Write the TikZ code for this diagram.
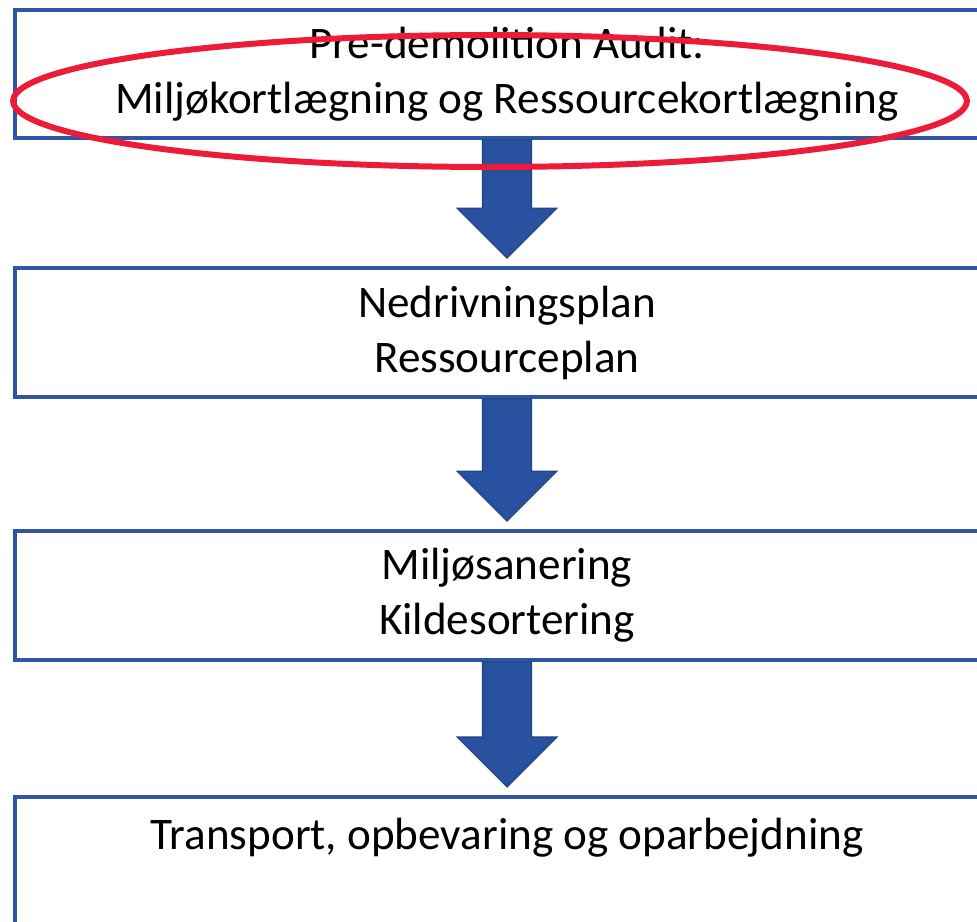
\documentclass[tikz,border=0pt]{standalone}
\usepackage{fontspec}
\setmainfont{Carlito}
\usetikzlibrary{%
calc,%
positioning,%
shapes.geometric}
\definecolor{boxblue}{RGB}{47,85,164}
\definecolor{arrowblue}{RGB}{40,82,160}
\definecolor{ringred}{RGB}{237,27,58}
\newcommand{\flowarrow}[2]{%
  \draw[blockarrow]
    ($(#1.south)+(-24.5,0)$) -- ($(#2.north)+(-24.5,-58)$) -- ++(-25.5,0)
    -- ($(#2.north)+(0,-8)$) -- ($(#2.north)+(50,-58)$) -- ++(-25.5,0)
    -- ($(#1.south)+(24.5,0)$) -- cycle;}
\begin{document}
\begin{tikzpicture}[x=0.02cm,y=-0.02cm,
  stepbox/.style={draw=boxblue,line width=2.2pt,fill=white,minimum width=19.68cm,
    inner sep=0pt,align=center,font=\fontsize{25.7}{31.3}\selectfont},
  steptext/.style={inner sep=0pt,align=center,font=\fontsize{25.7}{31.3}\selectfont},
  blockarrow/.style={fill=arrowblue,draw=arrowblue!80!black,line width=0.6pt,line join=miter}]
\path[use as bounding box,clip] (0,0) rectangle (977,922);
\fill[white] (0,0) rectangle (977,922);
\node[stepbox,minimum height=2.56cm] (audit) at (507,74)
  {Pre-demolition Audit:\\Miljøkortlægning og Ressourcekortlægning};
\node[stepbox,minimum height=2.58cm] (plan) at (507,332.5)
  {Nedrivningsplan\\Ressourceplan};
\node[stepbox,minimum height=2.58cm] (sort) at (507,595.5)
  {Miljøsanering\\Kildesortering};
\node[stepbox,minimum height=3.2cm,anchor=north] (trans) at (507,795) {};
\node[steptext,below=0.46cm of trans.north] (transtext)
  {Transport, opbevaring og oparbejdning};
% block arrows between the steps
\flowarrow{audit}{plan}
\flowarrow{plan}{sort}
\flowarrow{sort}{trans}
% red ring round the first step
\node[ellipse,draw=ringred,line width=3.4pt,minimum width=19.08cm,
  minimum height=2.64cm] (ring) at (490,101) {};
\end{tikzpicture}
\end{document}
